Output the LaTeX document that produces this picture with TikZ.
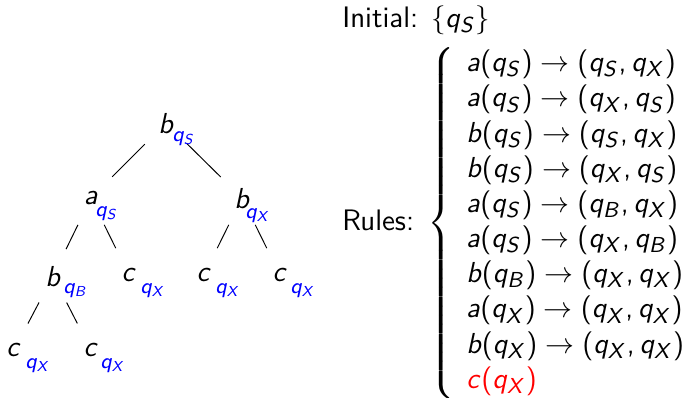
\documentclass[tikz,border=0pt,11pt]{standalone}
\usepackage{amsmath,amssymb}
\usepackage{xcolor}
\usepackage{tikz}
\usetikzlibrary{positioning,calc}

% sans serif maths, as on slides
\DeclareSymbolFont{letters}{OT1}{cmss}{m}{it}
\DeclareSymbolFont{operators}{OT1}{cmss}{m}{n}
\DeclareMathSymbol{,}{\mathpunct}{operators}{"2C}

\begin{document}
\begin{tikzpicture}[
      x=0.415pt, y=-0.415pt,
      font=\sffamily\fontsize{12.3}{14.6}\selectfont,
      sym/.style={inner sep=0pt},
      sub/.style={inner sep=0pt, anchor=west, text=blue},
      txt/.style={inner sep=0pt},
      edge/.style={shorten <=12.4pt, shorten >=12.4pt}]

    \useasboundingbox (0,0) rectangle (691,398);

    % tree
    \node[sym] (rt) at (166,123) {$b$};
    \node[sub] (rt-q) at (172,139) {$\scriptstyle q_S$};

    \node[sym] (aS) at (91,198) {$a$};
    \node[sub] (aS-q) at (95,214) {$\scriptstyle q_S$};
    \node[sym] (bX) at (242,198) {$b$};
    \node[sub] (bX-q) at (245,216) {$\scriptstyle q_X$};

    \node[sym] (bB) at (53,276) {$b$};
    \node[sub] (bB-q) at (63,291) {$\scriptstyle q_B$};
    \node[sym] (c1) at (129,275) {$c$};
    \node[sub] (c1-q) at (140,291) {$\scriptstyle q_X$};
    \node[sym] (c2) at (204,275) {$c$};
    \node[sub] (c2-q) at (215,291) {$\scriptstyle q_X$};
    \node[sym] (c3) at (280,275) {$c$};
    \node[sub] (c3-q) at (290,291) {$\scriptstyle q_X$};

    \node[sym] (c4) at (14,350) {$c$};
    \node[sub] (c4-q) at (25,366) {$\scriptstyle q_X$};
    \node[sym] (c5) at (91,350) {$c$};
    \node[sub] (c5-q) at (100,366) {$\scriptstyle q_X$};

    \draw[edge] (rt.center) -- (aS.center);
    \draw[edge] (rt.center) -- (bX.center);
    \draw[edge] (aS.center) -- (bB.center);
    \draw[edge] (aS.center) -- (c1.center);
    \draw[edge] (bX.center) -- (c2.center);
    \draw[edge] (bX.center) -- (c3.center);
    \draw[edge] (bB.center) -- (c4.center);
    \draw[edge] (bB.center) -- (c5.center);

    % automaton
    \node[txt, anchor=base west] (init) at (342,27) {Initial: $\{q_S\}$};
    \node[txt, anchor=west] (rules) at (342,223)
      {Rules: {\fontsize{12.8}{14.6}\selectfont $\left\{\begin{array}{l}
         a(q_S)\to(q_S,q_X)\\
         a(q_S)\to(q_X,q_S)\\
         b(q_S)\to(q_S,q_X)\\
         b(q_S)\to(q_X,q_S)\\
         a(q_S)\to(q_B,q_X)\\
         a(q_S)\to(q_X,q_B)\\
         b(q_B)\to(q_X,q_X)\\
         a(q_X)\to(q_X,q_X)\\
         b(q_X)\to(q_X,q_X)\\
         \textcolor{red}{c(q_X)}
       \end{array}\right.$}};
  \end{tikzpicture}
\end{document}
